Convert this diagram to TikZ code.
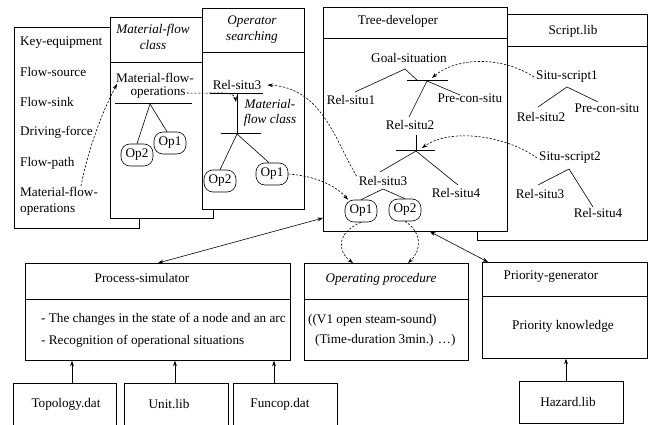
\documentclass[tikz,border=0pt]{standalone}
\usepackage{fontspec}
\setmainfont{Liberation Serif}
\usetikzlibrary{arrows.meta}
\newcommand{\fsz}{\fontsize{13.2}{16}\selectfont}
\begin{document}
\begin{tikzpicture}[x=1pt,y=-1pt,
  every node/.style={font=\fsz, inner sep=0pt},
  frame/.style={draw, fill=white, line width=0.7pt, anchor=north west},
  op/.style={draw, rounded corners=9pt, minimum width=32pt, minimum height=22pt, inner sep=0pt, line width=0.6pt},
  ln/.style={line width=0.6pt},
  bar/.style={line width=1pt},
  tip/.style={-{Stealth[length=5.5pt,width=3.8pt]}},
  dsh/.style={dash pattern=on 2.2pt off 1.6pt, line width=0.6pt, tip},
  arr/.style={line width=0.6pt, tip},
  darr/.style={line width=0.6pt, {Stealth[length=5.5pt,width=3.8pt]}-{Stealth[length=5.5pt,width=3.8pt]}},
]
\clip (0,0) rectangle (651,425);
\fill[white] (0,0) rectangle (651,425);

% ---------- frame 1 ----------
\node[frame, minimum width=125pt, minimum height=201pt] (f1) at (14,27) {};
\node[anchor=west] (ke)  at (20,43)  {Key-equipment};
\node[anchor=west] (fso) at (20,72)  {Flow-source};
\node[anchor=west] (fsi) at (20,102) {Flow-sink};
\node[anchor=west] (dfo) at (20,132) {Driving-force};
\node[anchor=west] (fpa) at (20,163) {Flow-path};
\node[anchor=west] (mfa) at (20,192) {Material-flow-};
\node[anchor=west] (mfb) at (20,210) {operations};

% ---------- frame 2 ----------
\node[frame, minimum width=103pt, minimum height=201pt] (f2) at (110,17) {};
\draw[ln] (f2.west |- 0,62) -- (f2.east |- 0,62);
\node[align=center] (f2h) at (153,37) {\itshape Material-flow\\\itshape class};
\node (mo2a) at (155,78) {Material-flow-};
\node (mo2b) at (158,93) {operations};
\coordinate (f2v) at (150,104);
\draw[bar] (115,104) -- (192,104);
\node[op] (f2op2) at (137,155) {Op2};
\node[op] (f2op1) at (170,143) {Op1};
\draw[ln] (f2v) -- (f2op2.north);
\draw[ln] (f2v) -- ([xshift=-3pt]f2op1.north);

% ---------- frame 3 ----------
\node[frame, minimum width=102pt, minimum height=201pt] (f3) at (202,8) {};
\draw[ln] (f3.west |- 0,52) -- (f3.east |- 0,52);
\node[align=center] (f3h) at (252,30) {\itshape Operator\\\itshape searching};
\node (f3rs) at (237,85) {Rel-situ3};
\coordinate (f3v1) at (237,94);
\coordinate (f3v2) at (237,134);
\draw[bar] (210,94) -- (263,94);
\draw[ln] (f3v1) -- (f3v2);
\draw[bar] (221,134) -- (261,134);
\node[align=center, font=\fontsize{13.2}{15}\selectfont] (f3mf) at (270,113) {\itshape Material-\\\itshape flow class};
\node[op] (f3op2) at (220,181) {Op2};
\node[op] (f3op1) at (272,174) {Op1};
\draw[ln] (f3v2) -- (f3op2.north);
\draw[ln] (f3v2) -- ([xshift=-3pt]f3op1.north);

% ---------- Script.lib ----------
\node[frame, minimum width=170pt, minimum height=226pt] (sl) at (477,14) {};
\draw[ln] (sl.west |- 0,46) -- (sl.east |- 0,46);
\node (slh) at (573,31) {Script.lib};
\node (ss1) at (567,77) {Situ-script1};
\coordinate (ss1v) at (567,87);
\node (s1rs2) at (541,117) {Rel-situ2};
\node (s1pc) at (607,108) {Pre-con-situ};
\coordinate (s1a) at (538,107);
\coordinate (s1b) at (598,102);
\draw[ln] (s1a) -- (ss1v) -- (s1b);
\node (ss2) at (570,158) {Situ-script2};
\coordinate (ss2v) at (569,169);
\node (s2rs3) at (540,194) {Rel-situ3};
\node (s2rs4) at (598,213) {Rel-situ4};
\coordinate (s2a) at (538,185);
\coordinate (s2b) at (593,207);
\draw[ln] (s2a) -- (ss2v) -- (s2b);

% ---------- Tree-developer ----------
\node[frame, minimum width=184pt, minimum height=224pt] (td) at (323,7) {};
\draw[ln] (td.west |- 0,38) -- (td.east |- 0,38);
\node (tdh) at (398,21) {Tree-developer};
\node (goal) at (409,58) {Goal-situation};
\coordinate (gv) at (405,69);
\node (trs1) at (351,100) {Rel-situ1};
\coordinate (trs1t) at (355,92);
\coordinate (b1l) at (418,81);
\draw[ln] (trs1t) -- (gv) -- (b1l);
\draw[bar] (407,81) -- (448,81);
\coordinate (b1) at (427,81);
\node (tpc) at (470,98) {Pre-con-situ};
\coordinate (tpct) at (460,95);
\node (trs2) at (410,125) {Rel-situ2};
\coordinate (trs2t) at (409,117);
\draw[ln] (trs2t) -- (b1) -- (tpct);
\coordinate (trs2b) at (416,135);
\coordinate (b2) at (416,151);
\draw[ln] (trs2b) -- (b2);
\draw[bar] (396,151) -- (435,151);
\node (trs3) at (383,181) {Rel-situ3};
\node (trs4) at (456,193) {Rel-situ4};
\coordinate (trs3t) at (380,172);
\coordinate (trs4t) at (458,185);
\draw[ln] (trs3t) -- (b2) -- (trs4t);
\coordinate (v3) at (383,189);
\node[op] (top1) at (361,211) {Op1};
\node[op] (top2) at (405,210) {Op2};
\draw[ln] (top1.north) -- (v3) -- (top2.north);

% ---------- lower boxes ----------
\node[frame, minimum width=265pt, minimum height=97pt] (ps) at (25,263) {};
\draw[ln] (ps.west |- 0,299) -- (ps.east |- 0,299);
\node (psh) at (142,278) {Process-simulator};
\node[anchor=west] (psa) at (41,319) {- The changes in the state of a node and an arc};
\node[anchor=west] (psb) at (41,341) {- Recognition of operational situations};

\node[frame, minimum width=164pt, minimum height=97pt] (opb) at (304,263) {};
\draw[ln] (opb.west |- 0,299) -- (opb.east |- 0,299);
\node (oph) at (381,279) {\itshape Operating procedure};
\node[anchor=west] (opa) at (308,320) {((V1 open steam-sound)};
\node[anchor=west] (opc) at (315,340) {(Time-duration 3min.) …)};

\node[frame, minimum width=165pt, minimum height=96pt] (pg) at (482,262) {};
\draw[ln] (pg.west |- 0,296) -- (pg.east |- 0,296);
\node (pgh) at (551,277) {Priority-generator};
\node (pgk) at (563,326) {Priority knowledge};

\node[frame, minimum width=103pt, minimum height=50pt] (topo) at (13,383) {};
\node (topol) at (66,404) {Topology.dat};
\node[frame, minimum width=104pt, minimum height=50pt] (unit) at (124,383) {};
\node (unitl) at (169,404) {Unit.lib};
\node[frame, minimum width=104pt, minimum height=50pt] (func) at (233,383) {};
\node (funcl) at (280,404) {Funcop.dat};
\node[frame, minimum width=104pt, minimum height=42pt] (haz) at (519,381) {};
\node (hazl) at (568,402) {Hazard.lib};

% ---------- solid arrows ----------
\draw[arr] (topo.north -| 72,0) -- (ps.south -| 72,0);
\draw[arr] (unit.north -| 175,0) -- (ps.south -| 175,0);
\draw[arr] (func.north -| 274,0) -- (ps.south -| 274,0);
\draw[arr] (haz.north -| 566,0) -- (pg.south -| 566,0);
\draw[darr] (ps.north -| 158,0) -- (td.west |- 0,218);
\draw[darr] (td.south -| 430,0) -- (pg.north -| 488,0);

% ---------- dashed connectors ----------
\coordinate (c1s) at (81,186);
\coordinate (c1e) at (117,84);
\draw[dsh] (c1s) .. controls (88,150) and (102,112) .. (c1e);
\coordinate (c2e) at (236,102);
\draw[dsh] ([xshift=1pt]mo2b.east) .. controls (215,94) and (234,90) .. (c2e);
\draw[dsh] (f3op1.east) .. controls (315,176) and (335,185) .. ([xshift=-13pt]top1.north);
\draw[dsh] ([xshift=-2pt]trs3.north west) .. controls (335,140) and (322,88) .. ([xshift=6pt]f3rs.east);
\coordinate (c5e) at (432,78);
\draw[dsh] ([xshift=-2pt]ss1.west) .. controls (500,55) and (455,58) .. (c5e);
\coordinate (c6e) at (422,148);
\draw[dsh] ([xshift=-2pt]ss2.west) .. controls (505,135) and (450,128) .. (c6e);
\draw[dsh] (top1.south) .. controls (338,232) and (336,250) .. (opb.north -| 353,0);
\draw[dsh] (top2.south) .. controls (422,232) and (422,250) .. (opb.north -| 408,0);
\end{tikzpicture}
\end{document}
